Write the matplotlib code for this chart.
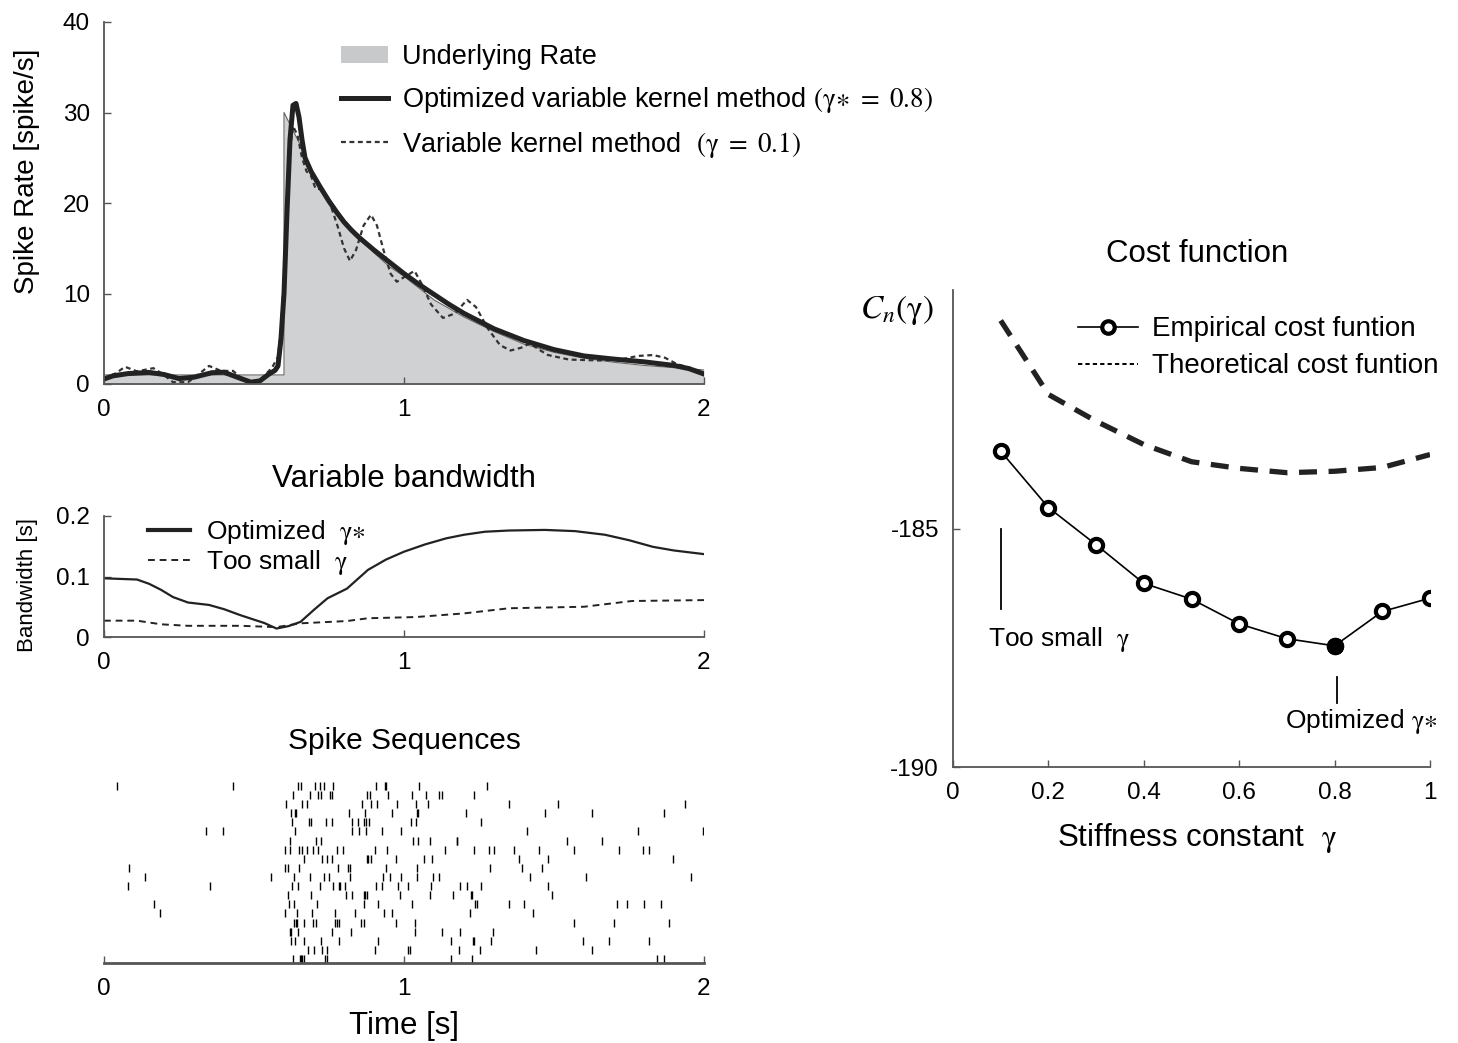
import matplotlib
matplotlib.use('Agg')
import matplotlib.pyplot as plt
from matplotlib.lines import Line2D
from matplotlib.patches import Patch

plt.rcParams['font.family'] = ['Liberation Sans', 'DejaVu Sans']
plt.rcParams['mathtext.fontset'] = 'stix'
plt.rcParams['axes.unicode_minus'] = False

# ---- data ----
# underlying rate (step at 0.6 s, then decay)
true_t = [0, 0.6, 0.6, 0.65, 0.7, 0.75, 0.8, 0.85, 0.9, 0.95, 1.0, 1.1, 1.2, 1.3,
          1.4, 1.5, 1.6, 1.7, 1.8, 1.9, 2.0]
true_rate = [1, 1, 30, 26.7, 23.2, 20.5, 18.2, 16.2, 14.5, 13.0, 11.9, 9.3, 7.4, 5.8,
             4.4, 3.5, 2.85, 2.4, 2.05, 1.8, 1.55]

# optimized variable kernel estimate (gamma* = 0.8)
opt_t = [0, 0.03, 0.08, 0.15, 0.2, 0.25, 0.3, 0.36, 0.4, 0.44, 0.49, 0.52, 0.55, 0.57,
         0.58, 0.59, 0.6, 0.61, 0.62, 0.63, 0.64, 0.65, 0.66, 0.67, 0.69, 0.72, 0.75,
         0.775, 0.8, 0.825, 0.85, 0.9, 0.95, 1.0, 1.05, 1.1, 1.15, 1.2, 1.3, 1.4, 1.5,
         1.6, 1.7, 1.8, 1.9, 1.95, 2.0]
opt_rate = [0.55, 0.9, 1.15, 1.28, 1.05, 0.6, 0.75, 1.25, 1.3, 0.8, 0.2, 0.35, 1.1, 1.5,
            2.0, 5, 10, 19, 27, 30.8, 31.0, 29.5, 27.0, 25.0, 23.5, 21.8, 20.2,
            19.0, 17.9, 17.0, 16.2, 14.8, 13.5, 12.2, 11.0, 9.9, 8.8, 7.8, 6.1, 4.8, 3.8,
            3.1, 2.75, 2.45, 2.05, 1.7, 1.1]

# variable kernel estimate with too small gamma (0.1)
small_t = [0, 0.04, 0.07, 0.11, 0.165, 0.2, 0.23, 0.28, 0.32, 0.35, 0.39, 0.43, 0.46,
           0.48, 0.52, 0.56, 0.58, 0.59, 0.6, 0.61, 0.62, 0.63, 0.645, 0.66, 0.675, 0.69,
           0.705, 0.73, 0.755, 0.78, 0.8, 0.82, 0.84, 0.865, 0.89, 0.91, 0.93, 0.955,
           0.976, 1.0, 1.035, 1.06, 1.09, 1.13, 1.17, 1.21, 1.24, 1.28, 1.32, 1.355,
           1.39, 1.42, 1.45, 1.48, 1.55, 1.65, 1.72, 1.78, 1.83, 1.87, 1.91, 1.95, 2.0]
small_rate = [0.55, 1.2, 1.9, 1.4, 1.75, 1.0, 0.2, 0.2, 1.2, 2.0, 1.45, 1.45, 0.6,
              0.2, 0.4, 1.8, 3.0, 6, 12, 20, 26, 28.5, 27.5, 25, 23.5, 23.0,
              21.6, 21.5, 19.8, 17.3, 15.0, 13.6, 14.8, 17.5, 18.7, 17.5, 15.0, 12.2,
              11.3, 11.8, 12.5, 11.0, 8.8, 7.3, 7.8, 9.3, 8.5, 6.1, 4.3, 3.7,
              4.0, 4.5, 3.8, 3.2, 2.7, 2.6, 2.7, 3.1, 3.2, 2.9, 2.2, 1.8, 1.3]

# variable bandwidth
bw_t = [0, 0.11, 0.15, 0.19, 0.23, 0.28, 0.35, 0.40, 0.455, 0.535, 0.575, 0.615, 0.655,
        0.7, 0.745, 0.81, 0.88, 0.94, 1.0, 1.07, 1.14, 1.2, 1.27, 1.35, 1.47, 1.57,
        1.67, 1.75, 1.83, 1.9, 2.0]
bw_opt = [0.097, 0.095, 0.088, 0.078, 0.066, 0.057, 0.053, 0.046, 0.036, 0.023, 0.014,
          0.018, 0.025, 0.045, 0.064, 0.08, 0.111, 0.128, 0.141, 0.153, 0.163, 0.169,
          0.174, 0.176, 0.177, 0.175, 0.169, 0.160, 0.149, 0.143, 0.137]
bw_small_t = [0, 0.11, 0.19, 0.28, 0.455, 0.575, 0.655, 0.81, 0.88, 1.04, 1.2, 1.35,
              1.6, 1.76, 2.0]
bw_small = [0.027, 0.027, 0.021, 0.0185, 0.0185, 0.0163, 0.0226, 0.0264, 0.031, 0.033,
            0.039, 0.0475, 0.05, 0.0595, 0.061]

# spike trains, top row first
spike_rows = [
    [0.044, 0.429, 0.647, 0.656, 0.702, 0.719, 0.733, 0.762, 0.907, 0.937, 0.941, 1.050, 1.278],
    [0.631, 0.686, 0.713, 0.722, 0.752, 0.759, 0.878, 0.888, 0.947, 1.026, 1.073, 1.118, 1.127, 1.232],
    [0.606, 0.661, 0.675, 0.859, 0.891, 0.910, 0.978, 1.039, 1.079, 1.350, 1.514, 1.938],
    [0.624, 0.636, 0.640, 0.815, 0.871, 0.960, 1.042, 1.047, 1.205, 1.469, 1.628, 1.868],
    [0.627, 0.684, 0.689, 0.741, 0.760, 0.825, 0.846, 0.865, 0.873, 0.883, 1.023, 1.039, 1.258],
    [0.339, 0.396, 0.638, 0.825, 0.849, 0.874, 0.927, 0.991, 1.410, 1.780, 1.995],
    [0.619, 0.706, 0.723, 1.030, 1.047, 1.086, 1.175, 1.178, 1.542, 1.661],
    [0.602, 0.620, 0.651, 0.660, 0.675, 0.697, 0.712, 0.778, 0.795, 0.903, 0.943, 1.135,
     1.232, 1.283, 1.300, 1.368, 1.451, 1.568, 1.717, 1.797, 1.817],
    [0.668, 0.725, 0.743, 0.760, 0.875, 0.881, 0.891, 0.972, 1.067, 1.092, 1.382, 1.480, 1.898],
    [0.082, 0.603, 0.614, 0.650, 0.779, 0.813, 0.820, 0.939, 1.044, 1.287, 1.394, 1.459],
    [0.136, 0.556, 0.634, 0.686, 0.733, 0.750, 0.820, 0.929, 0.952, 0.989, 1.044, 1.098,
     1.118, 1.420, 1.605, 1.956],
    [0.079, 0.352, 0.628, 0.647, 0.719, 0.764, 0.783, 0.787, 0.803, 0.907, 0.928, 0.981,
     1.015, 1.090, 1.187, 1.209, 1.258, 1.481],
    [0.613, 0.689, 0.805, 0.825, 0.867, 0.871, 0.878, 0.985, 1.088, 1.164, 1.224, 1.228, 1.494],
    [0.165, 0.617, 0.634, 0.710, 0.865, 0.912, 1.027, 1.237, 1.242, 1.350, 1.399, 1.710,
     1.743, 1.799, 1.855],
    [0.185, 0.603, 0.644, 0.694, 0.771, 0.838, 0.932, 0.960, 1.221, 1.430],
    [0.632, 0.639, 0.644, 0.668, 0.698, 0.706, 0.771, 0.778, 0.782, 0.858, 0.865, 0.973,
     1.035, 1.567, 1.699, 1.884],
    [0.619, 0.624, 0.646, 0.759, 0.824, 1.036, 1.125, 1.185, 1.295],
    [0.623, 0.635, 0.668, 0.722, 0.783, 0.914, 1.156, 1.229, 1.234, 1.291, 1.596, 1.683, 1.818],
    [0.681, 0.700, 0.726, 0.743, 0.904, 1.014, 1.019, 1.184, 1.255, 1.440, 1.628],
    [0.630, 0.652, 0.656, 0.661, 0.667, 0.735, 0.742, 1.158, 1.228, 1.844, 1.867],
]

# cost function vs stiffness constant
gammas = [0.1, 0.2, 0.3, 0.4, 0.5, 0.6, 0.7, 0.8, 0.9, 1.0]
cost_emp = [-183.38, -184.56, -185.34, -186.15, -186.48, -187.0, -187.31, -187.46,
            -186.74, -186.46]
cost_theo = [-180.64, -182.19, -182.75, -183.24, -183.6, -183.74, -183.83, -183.8,
             -183.72, -183.45]
gamma_opt = 0.8

W, H = 1458, 1043
fig = plt.figure(figsize=(W / 100, H / 100), dpi=100)
spine_col = '#555555'
tick_fs = 17.5
title_fs = 22.5
g = r'$\mathrm{\gamma}$'
gs = r'$\mathrm{\gamma}{\ast}$'


def px_axes(left, top, right, bottom):
    return fig.add_axes([left / W, 1 - bottom / H, (right - left) / W, (bottom - top) / H])


def style(ax, left=True):
    for s in ['top', 'right']:
        ax.spines[s].set_visible(False)
    ax.spines['left'].set_visible(left)
    for s in ['left', 'bottom']:
        ax.spines[s].set_color(spine_col)
        ax.spines[s].set_linewidth(1.3)
    ax.tick_params(direction='in', length=5, width=1, color=spine_col,
                   labelsize=tick_fs, colors='black')
    ax.tick_params(axis='x', pad=11)
    ax.tick_params(axis='y', pad=10)


# ---- spike rate ----
ax1 = px_axes(104, 22, 704, 384)
style(ax1)
ax1.fill_between(true_t, true_rate, 0, color='#d0d1d3', lw=0)
ax1.plot(true_t, true_rate, color='#666666', lw=0.8)
ax1.plot(small_t, small_rate, color='#333333', lw=1.6, ls=(0, (2.2, 1.6)))
ax1.plot(opt_t, opt_rate, color='#222222', lw=3.6, solid_joinstyle='round')
ax1.set_xlim(0, 2)
ax1.set_ylim(0, 40)
ax1.set_xticks([0, 1, 2])
ax1.set_yticks([0, 10, 20, 30, 40])
h1 = [Patch(facecolor='#c8c9cb', edgecolor='none'),
      Line2D([], [], color='#222222', lw=3.6),
      Line2D([], [], color='#333333', lw=1.6, ls=(0, (2.2, 1.6)))]
l1 = ['Underlying Rate',
      r'Optimized variable kernel method $(\mathrm{\gamma}{\ast}\ =\ 0.8)$',
      r'Variable kernel method  $(\mathrm{\gamma}\ =\ 0.1)$']
ax1.legend(h1, l1, loc='upper left', bbox_to_anchor=(0.395, 0.94), frameon=False,
           fontsize=19.5, handlelength=1.75, handleheight=0.6, handletextpad=0.5,
           labelspacing=0.55, borderpad=0, borderaxespad=0)
fig.text(27 / W, 1 - 171 / H, 'Spike Rate [spike/s]', rotation=90, fontsize=20,
         ha='center', va='center')

# ---- variable bandwidth ----
ax2 = px_axes(104, 516, 704, 637)
style(ax2)
ax2.plot(bw_t, bw_opt, color='#222222', lw=1.6)
ax2.plot(bw_small_t, bw_small, color='#222222', lw=1.4, ls=(0, (3.5, 2.5)))
ax2.set_xlim(0, 2)
ax2.set_ylim(0, 0.2)
ax2.set_xticks([0, 1, 2])
ax2.set_yticks([0, 0.1, 0.2])
ax2.set_yticklabels(['0', '0.1', '0.2'])
h2 = [Line2D([], [], color='#222222', lw=3),
      Line2D([], [], color='#222222', lw=1.4, ls=(0, (3.5, 2.5)))]
l2 = ['Optimized  ' + gs, 'Too small  ' + g]
ax2.legend(h2, l2, loc='upper left', bbox_to_anchor=(0.073, 0.98), frameon=False,
           fontsize=19, handlelength=1.6, handletextpad=0.6, labelspacing=0.02,
           borderpad=0, borderaxespad=0)
fig.text(404 / W, 1 - 479 / H, 'Variable bandwidth', fontsize=title_fs, ha='center', va='center')
fig.text(27 / W, 1 - 585 / H, 'Bandwidth [s]', rotation=90, fontsize=16,
         ha='center', va='center')

# ---- spike raster ----
ax3 = px_axes(104, 775, 704, 963)
style(ax3, left=False)
ax3.spines['bottom'].set_linewidth(2)
ax3.eventplot(spike_rows, lineoffsets=list(range(len(spike_rows), 0, -1)),
              linelengths=0.88, colors='black', linewidths=1.0)
ax3.set_xlim(0, 2)
ax3.set_ylim(0.56, 21.2)
ax3.set_xticks([0, 1, 2])
ax3.set_yticks([])
fig.text(404 / W, 1 - 741 / H, 'Spike Sequences', fontsize=21.5, ha='center', va='center')
fig.text(404 / W, 1 - 1026 / H, 'Time [s]', fontsize=title_fs, ha='center', va='center')

# ---- cost function ----
ax4 = px_axes(953, 290, 1430, 767)
style(ax4)
ax4.plot(gammas, cost_theo, color='#222222', lw=3.8, ls=(0, (3.4, 2.2)))
ax4.plot(gammas, cost_emp, color='black', lw=1.2, marker='o', ms=9.5,
         mfc='white', mec='black', mew=3.0)
i_opt = gammas.index(gamma_opt)
ax4.plot([gammas[i_opt]], [cost_emp[i_opt]], 'o', ms=11.5, color='black')
ax4.set_xlim(0, 1)
ax4.set_ylim(-190, -180)
ax4.set_xticks([0, 0.2, 0.4, 0.6, 0.8, 1])
ax4.set_xticklabels(['0', '0.2', '0.4', '0.6', '0.8', '1'])
ax4.set_yticks([-190, -185])
# pointer marks
ax4.plot([0.1, 0.1], [-185.02, -186.69], color='black', lw=1.3)
ax4.text(0.073, -187.32, 'Too small  ' + g, fontsize=19, ha='left', va='center')
ax4.plot([0.805, 0.805], [-188.12, -188.65], color='black', lw=1.3)
ax4.text(1.015, -189.05, 'Optimized ' + gs, fontsize=19, ha='right', va='center')
h4 = [Line2D([], [], color='black', lw=1.2, marker='o', ms=9, mfc='white',
             mec='black', mew=3.0),
      Line2D([], [], color='black', lw=1.4, ls=(0, (2.2, 1.6)))]
l4 = ['Empirical cost funtion', 'Theoretical cost funtion']
ax4.legend(h4, l4, loc='upper left', bbox_to_anchor=(0.262, 0.945), frameon=False,
           fontsize=20, handlelength=2.15, handletextpad=0.5, labelspacing=0.4,
           borderpad=0, borderaxespad=0)
fig.text(1197 / W, 1 - 254 / H, 'Cost function', fontsize=title_fs, ha='center', va='center')
fig.text(1197 / W, 1 - 838 / H, 'Stiffness constant  ' + g, fontsize=title_fs,
         ha='center', va='center')
fig.text(860 / W, 1 - 310 / H, r'$C_n\left(\mathrm{\gamma}\right)$', fontsize=24,
         ha='left', va='center')

fig.savefig('out.png', dpi=100)
